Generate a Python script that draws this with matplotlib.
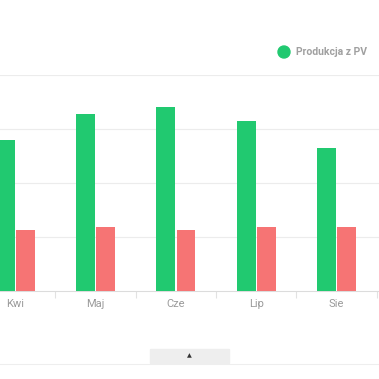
import matplotlib.pyplot as plt
import numpy as np
from matplotlib.patches import Rectangle, Circle

# dane
months = ["Kwi", "Maj", "Cze", "Lip", "Sie"]
pv = [280, 328, 341, 315, 265]
other = [113, 119, 113, 119, 119]

GREEN = "#21c970"
RED = "#f67474"

fig = plt.figure(figsize=(3.79, 3.79), dpi=100)
ax = fig.add_axes([0, 0.2322, 1, 0.570])

x = np.arange(len(months))
w = 0.235
ax.bar(x - w / 2 - 0.005, pv, width=w, color=GREEN, zorder=3)
ax.bar(x + w / 2 + 0.01, other, width=w, color=RED, zorder=3)

ax.set_xlim(-0.187, 4.53)
ax.set_ylim(0, 400)
ax.set_yticks([100, 200, 300, 400])
ax.yaxis.grid(True, color="#ececec", linewidth=0.8, zorder=0)
ax.tick_params(axis="y", length=0, labelleft=False)

# podpisy osi x na srodku kategorii, kreski pomiedzy
ax.set_xticks(x)
ax.set_xticklabels(months, fontsize=8, color="#9a9a9a", family="Roboto")
ax.set_xticks(x + 0.5, minor=True)
ax.tick_params(axis="x", which="major", length=0, pad=6)
ax.tick_params(axis="x", which="minor", length=5, color="#e2e2e2", width=0.8)

for s in ["top", "right", "left"]:
    ax.spines[s].set_visible(False)
ax.spines["bottom"].set_color("#dcdcdc")
ax.spines["bottom"].set_linewidth(0.8)

# legenda
fig.patches.append(Circle((284 / 379, 1 - 52 / 379), 6 / 379, color=GREEN,
                          transform=fig.transFigure))
fig.text(295.5 / 379, 1 - 52 / 379, "Produkcja z PV", fontsize=7.5, color="#a0a0a0",
         family="Roboto", fontweight="bold", va="center", ha="left")

# przycisk na dole
fig.patches.append(Rectangle((150 / 379, 1 - 363 / 379), 79 / 379, 14 / 379,
                             color="#eeeeee", transform=fig.transFigure))
fig.text(189.5 / 379, 1 - 356 / 379, "▲", fontsize=4.5, color="#333333",
         ha="center", va="center")
fig.add_artist(plt.Line2D([0, 1], [1 - 364 / 379, 1 - 364 / 379], color="#eeeeee",
                          linewidth=0.8, transform=fig.transFigure))

fig.savefig("out.png", dpi=100)
